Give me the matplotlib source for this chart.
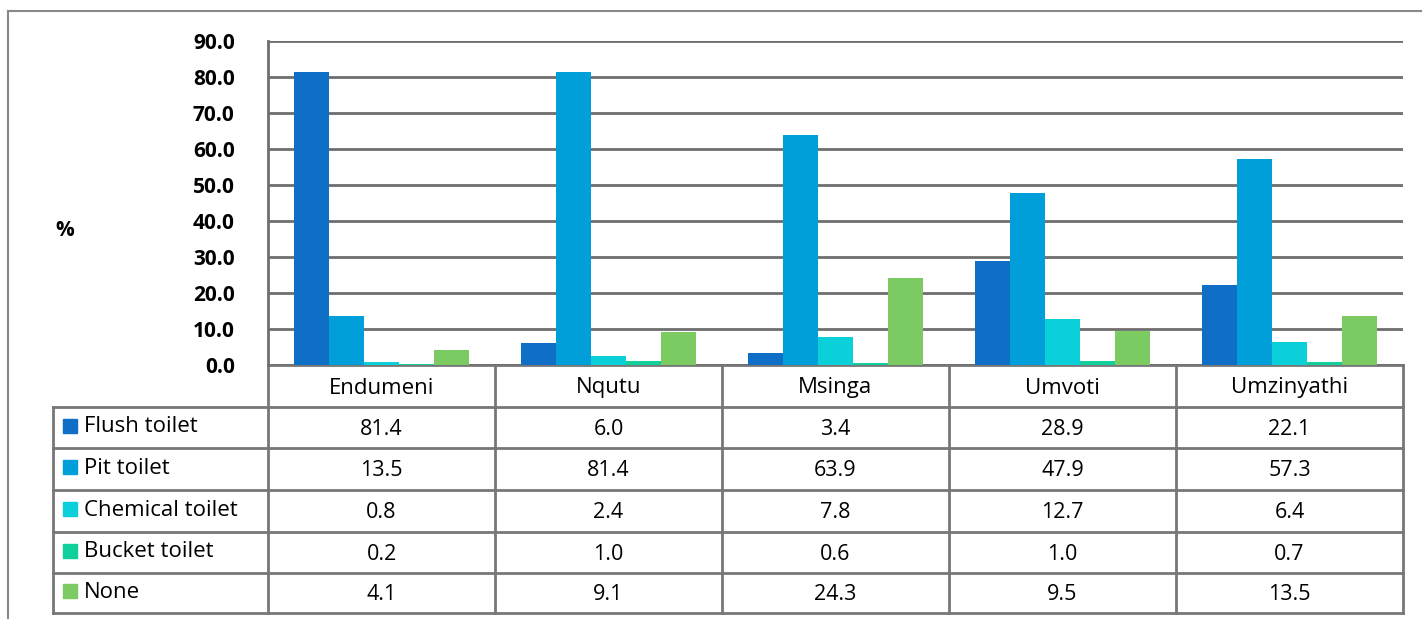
import numpy as np
import matplotlib.pyplot as plt

# toilet facilities by municipality (%)
municipalities = ['Endumeni', 'Nqutu', 'Msinga', 'Umvoti', 'Umzinyathi']
toilet_types = ['Flush toilet', 'Pit toilet', 'Chemical toilet', 'Bucket toilet', 'None']
flush = [81.4, 6.0, 3.4, 28.9, 22.1]
pit = [13.5, 81.4, 63.9, 47.9, 57.3]
chemical = [0.8, 2.4, 7.8, 12.7, 6.4]
bucket = [0.2, 1.0, 0.6, 1.0, 0.7]
none = [4.1, 9.1, 24.3, 9.5, 13.5]
yticks = [0, 10, 20, 30, 40, 50, 60, 70, 80, 90]

series = [flush, pit, chemical, bucket, none]
colors = ['#0f6fc6', '#009fd9', '#0bd0d9', '#10cf9b', '#7cca62']
grid_col = '#6e6e6e'
line_col = '#777777'

plt.rcParams['font.family'] = ['Open Sans', 'DejaVu Sans']

W, H = 1422, 619
fig = plt.figure(figsize=(W / 100, H / 100), dpi=100)

# full-figure pixel axes for the frame and the data table
bg = fig.add_axes([0, 0, 1, 1])
bg.set_xlim(0, W)
bg.set_ylim(H, 0)
bg.axis('off')

# outer frame
bg.plot([8, 8], [11, H], color='#888888', lw=1.5)
bg.plot([8, W], [11, 11], color='#888888', lw=1.5)

# chart area
x0, x1, y_top, y_bot = 268, 1403, 41, 365
ax = fig.add_axes([x0 / W, 1 - y_bot / H, (x1 - x0) / W, (y_bot - y_top) / H])
n = len(municipalities)
width = 0.154
x = np.arange(n)
for i, vals in enumerate(series):
    ax.bar(x + (i - 2) * width, vals, width, color=colors[i], zorder=3)
ax.set_xlim(-0.5, n - 0.5)
ax.set_ylim(0, 90)
ax.set_yticks(yticks)
ax.set_yticklabels(['%.1f' % t for t in yticks], fontsize=15, fontweight='bold')
ax.tick_params(axis='y', length=0, pad=24)
ax.set_xticks([])
ax.grid(axis='y', color=grid_col, lw=2, zorder=0)
for s in ['top', 'right', 'bottom']:
    ax.spines[s].set_visible(False)
ax.spines['left'].set_color(grid_col)
ax.spines['left'].set_linewidth(2)
ax.patch.set_alpha(0)

bg.text(65, 230, '%', fontsize=15, fontweight='bold', ha='center', va='center')

# data table under the bars
col_w = (x1 - x0) / n
row_tops = [365, 407, 448, 490, 532, 573, 613]
label_left = 53

# header row
for j, name in enumerate(municipalities):
    bg.text(x0 + (j + 0.5) * col_w, (row_tops[0] + row_tops[1]) / 2 + 2, name,
            fontsize=16, ha='center', va='center')

for i, label in enumerate(toilet_types):
    ytop, ybot = row_tops[i + 1], row_tops[i + 2]
    yc = (ytop + ybot) / 2
    bg.add_patch(plt.Rectangle((63, yc - 9), 14, 14, color=colors[i]))
    bg.text(84, yc - 1, label, fontsize=16, ha='left', va='center')
    for j in range(n):
        bg.text(x0 + (j + 0.5) * col_w, yc + 2, '%.1f' % series[i][j],
                fontsize=15.5, ha='center', va='center')

# grid lines of the table
bg.plot([x0, x1], [row_tops[0], row_tops[0]], color=line_col, lw=2)
for yy in row_tops[1:]:
    bg.plot([label_left, x1], [yy, yy], color=line_col, lw=2)
bg.plot([label_left, label_left], [row_tops[1], row_tops[-1]], color=line_col, lw=2)
for j in range(n + 1):
    xx = x0 + j * col_w
    bg.plot([xx, xx], [row_tops[0], row_tops[-1]], color=line_col, lw=2)

fig.savefig('out.png', dpi=100)
